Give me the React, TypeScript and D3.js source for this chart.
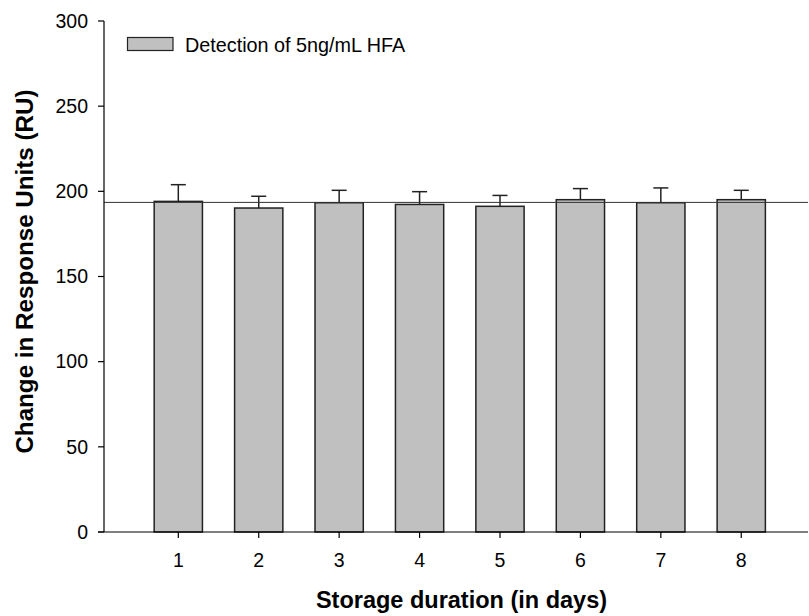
import React from "react";
import * as d3 from "d3";

const days = [1, 2, 3, 4, 5, 6, 7, 8];
const means = [194.1, 190.2, 193.3, 192.3, 191.2, 195.1, 193.3, 195.1];
const errors = [9.8, 6.9, 7.3, 7.5, 6.4, 6.5, 8.7, 5.5];
const yTicks = [0, 50, 100, 150, 200, 250, 300];
const referenceValue = 193.5;
const legendLabel = "Detection of 5ng/mL HFA";
const xTitle = "Storage duration (in days)";
const yTitle = "Change in Response Units (RU)";

export default function App() {
  const W = 809, H = 616;
  const left = 104, right = 808, top = 21, bottom = 532;
  const x = d3.scaleLinear().domain([0.076, 8.83]).range([left, right]);
  const y = d3.scaleLinear().domain([0, 300]).range([bottom, top]);
  const step = x(2) - x(1);
  const bw = step * 0.6;
  const capW = 15;
  const font = "Arial, 'Liberation Sans', sans-serif";

  return (
    <svg width={W} height={H} style={{ position: "absolute", left: 0, top: 0, background: "#fff" }}>
      {days.map((d, i) => (
        <g key={d}>
          <line x1={x(d)} x2={x(d)} y1={y(means[i])} y2={y(means[i] + errors[i])} stroke="#222" strokeWidth={1.5} />
          <line x1={x(d) - capW / 2} x2={x(d) + capW / 2} y1={y(means[i] + errors[i])} y2={y(means[i] + errors[i])} stroke="#222" strokeWidth={1.5} />
          <rect x={x(d) - bw / 2} y={y(means[i])} width={bw} height={y(0) - y(means[i])} fill="#c0c0c0" stroke="#222" strokeWidth={1.5} />
        </g>
      ))}
      <line x1={left} x2={right} y1={y(referenceValue)} y2={y(referenceValue)} stroke="#333" strokeWidth={1} />
      <line x1={left} x2={left} y1={top} y2={bottom} stroke="#000" strokeWidth={1.2} />
      {yTicks.map((t) => (
        <g key={t}>
          <line x1={left - 6} x2={left} y1={y(t)} y2={y(t)} stroke="#000" strokeWidth={1.2} />
          <text x={88} y={y(t)} dy="0.35em" textAnchor="end" fontFamily={font} fontSize={19.5} fill="#000">{t}</text>
        </g>
      ))}
      <line x1={left - 6} x2={right} y1={bottom} y2={bottom} stroke="#000" strokeWidth={1.2} />
      {days.map((d) => (
        <g key={d}>
          <line x1={x(d)} x2={x(d)} y1={bottom} y2={bottom + 6} stroke="#000" strokeWidth={1.2} />
          <text x={x(d)} y={567} textAnchor="middle" fontFamily={font} fontSize={19.5} fill="#000">{d}</text>
        </g>
      ))}
      <text x={461.5} y={608} textAnchor="middle" fontFamily={font} fontSize={23.5} fontWeight="bold" fill="#000">{xTitle}</text>
      <text transform={`translate(33, 271.5) rotate(-90)`} textAnchor="middle" fontFamily={font} fontSize={24.2} fontWeight="bold" fill="#000">{yTitle}</text>
      <rect x={127.5} y={37.5} width={45.5} height={13} fill="#c0c0c0" stroke="#222" strokeWidth={1.2} />
      <text x={185} y={51.5} fontFamily={font} fontSize={19.8} fill="#000">{legendLabel}</text>
    </svg>
  );
}
